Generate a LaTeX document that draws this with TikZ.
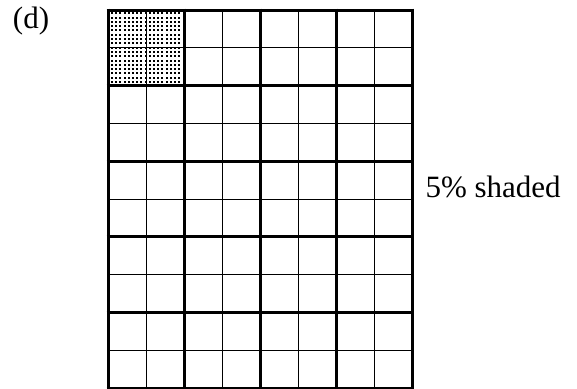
\documentclass[tikz,border=0pt]{standalone}
\usepackage{fontspec}
\setmainfont{Liberation Serif}

\begin{document}
\begin{tikzpicture}[x=1pt, y=-1pt, font=\fontsize{31}{38}\selectfont]
    \useasboundingbox (0,0) rectangle (577,388);

    % Shaded block (dots)
    \foreach \i in {0,...,16}
        \foreach \j in {0,...,16}
            \fill (111+4.2*\i,12.2+4.3*\j) rectangle ++(2,2);

    % Thin grid lines
    \foreach \i in {1,3,5,7}
        \draw[line width=0.9pt] (108+38*\i,10) -- (108+38*\i,388);
    \foreach \j in {1,3,5,7,9}
        \draw[line width=0.9pt] (108,10+37.8*\j) -- (412,10+37.8*\j);

    % Thick grid lines
    \foreach \i in {0,2,4,6,8}
        \draw[line width=3pt] (108+38*\i,8.5) -- (108+38*\i,389.5);
    \foreach \j in {0,2,4,6,8,10}
        \draw[line width=3pt] (106.5,10+37.8*\j) -- (413.5,10+37.8*\j);

    % Labels
    \node (part) at (31,21) {(d)};
    \node[anchor=base west] (caption) at (422,197) {5\% shaded};
\end{tikzpicture}
\end{document}
